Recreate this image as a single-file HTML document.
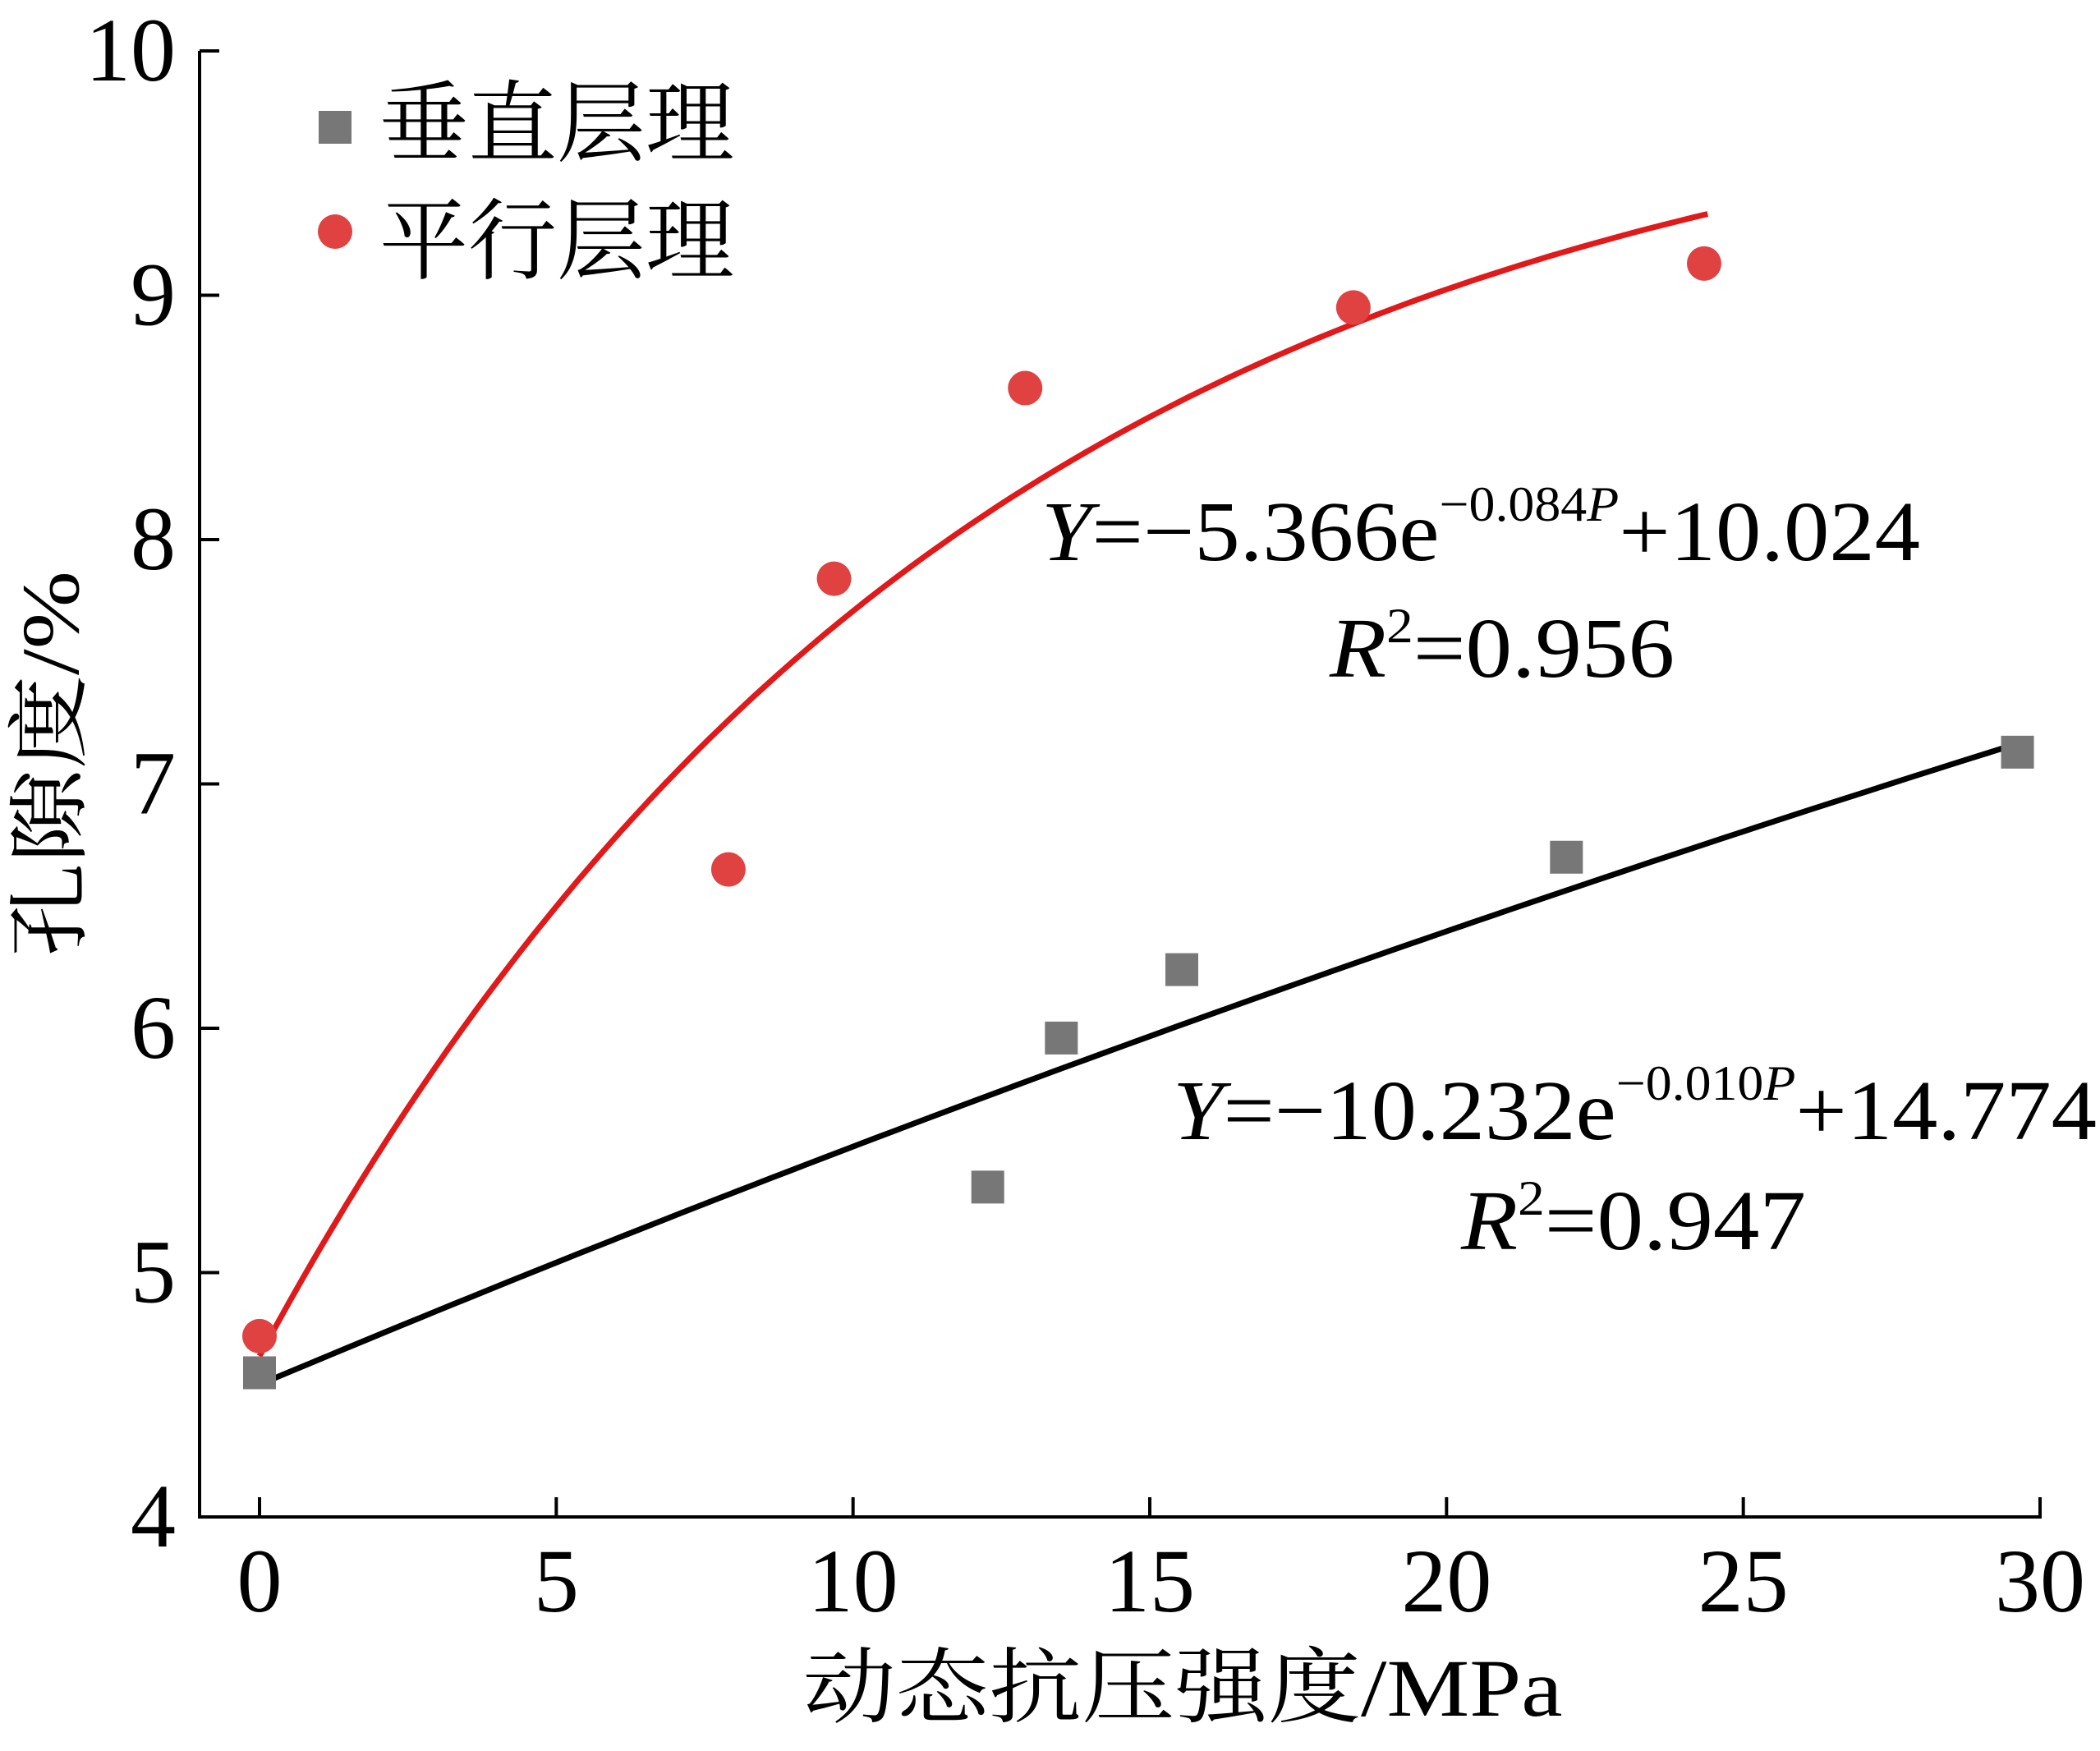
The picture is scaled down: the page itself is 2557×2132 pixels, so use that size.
<!DOCTYPE html>
<html><head><meta charset="utf-8"><style>html,body{margin:0;padding:0;background:#fff}svg{display:block}</style></head>
<body>
<svg id="chart" width="2557" height="2132" viewBox="0 0 2557 2132" xmlns="http://www.w3.org/2000/svg">
<g id="axes"></g>
<g id="fits"></g>
<g id="marks"></g>
<g font-family="'Liberation Serif','Noto Serif CJK SC',serif" font-size="108">
  <rect x="388" y="135" width="40" height="40" fill="#777"/>
  <text x="462" y="188">垂直层理</text>
  <circle cx="408" cy="282" r="21" fill="#e04242"/>
  <text x="462" y="331">平行层理</text>
</g>
<g font-family="'Liberation Serif','Times New Roman',serif" font-size="104" fill="#000">
  <text x="1268" y="682" textLength="1070" lengthAdjust="spacingAndGlyphs"><tspan font-style="italic">Y</tspan>=−5.366e<tspan font-size="60" dy="-48">−0.084<tspan font-style="italic">P</tspan></tspan><tspan dy="48">+10.024</tspan></text>
  <text x="1619" y="824" textLength="420" lengthAdjust="spacingAndGlyphs"><tspan font-style="italic">R</tspan><tspan font-size="60" dy="-42">2</tspan><tspan dy="42">=0.956</tspan></text>
  <text x="1428" y="1387" textLength="1125" lengthAdjust="spacingAndGlyphs"><tspan font-style="italic">Y</tspan>=−10.232e<tspan font-size="60" dy="-48">−0.010<tspan font-style="italic">P</tspan></tspan><tspan dy="48">+14.774</tspan></text>
  <text x="1779" y="1521" textLength="420" lengthAdjust="spacingAndGlyphs"><tspan font-style="italic">R</tspan><tspan font-size="60" dy="-42">2</tspan><tspan dy="42">=0.947</tspan></text>
</g>
<text x="1440" y="2089" text-anchor="middle" font-family="'Liberation Serif','Noto Serif CJK SC',serif" font-size="100" textLength="925" lengthAdjust="spacingAndGlyphs">动态抗压强度/MPa</text>
<text transform="translate(95,930) rotate(-90)" text-anchor="middle" font-family="'Liberation Serif','Noto Serif CJK SC',serif" font-size="100" textLength="470" lengthAdjust="spacingAndGlyphs">孔隙度/%</text>
</svg>
<script>
const xTicks = [0,5,10,15,20,25,30];
const yTicks = [4,5,6,7,8,9,10];
const vertX = [0,12.27,13.51,15.54,22.02,29.62];
const vertY = [4.59,5.35,5.96,6.24,6.70,7.13];
const paraX = [0,7.9,9.68,12.9,18.43,24.34];
const paraY = [4.74,6.65,7.84,8.62,8.95,9.13];
const paraFit = [-5.366,-0.084,10.024];
const vertFit = [-10.232,-0.010,14.774];
const paraRange = [0,24.4];
const vertRange = [0,29.7];

const NS='http://www.w3.org/2000/svg';
const X0=316,X1=2484,Y0=1847,Y1=62,XL=243,XR=2486;
const sx=v=>X0+(v-0)/(30-0)*(X1-X0);
const sy=v=>Y0-(v-4)/(10-4)*(Y0-Y1);
function mk(tag,attrs,parent){const e=document.createElementNS(NS,tag);for(const k in attrs)e.setAttribute(k,attrs[k]);parent.appendChild(e);return e;}
const axes=document.getElementById('axes');
let e=mk('path',{d:`M${XL} ${Y1}V${Y0}H${XR}`,fill:'none',stroke:'#000','stroke-width':4},axes);


xTicks.forEach(t=>{
  let l=mk('line',{x1:sx(t),x2:sx(t),y1:Y0,y2:Y0-24,stroke:'#000','stroke-width':4},axes);
  
  
  let tx=mk('text',{x:sx(t),y:1962,'text-anchor':'middle','font-family':"'Liberation Serif','Times New Roman',serif",'font-size':110},axes);
  tx.textContent=t;
  
  
});
yTicks.forEach(t=>{
  let l=mk('line',{x1:XL,x2:XL+24,y1:sy(t),y2:sy(t),stroke:'#000','stroke-width':4},axes);
  
  
  let tx=mk('text',{x:214,y:sy(t)+36,'text-anchor':'end','font-family':"'Liberation Serif','Times New Roman',serif",'font-size':110},axes);
  tx.textContent=t;
  
  
});
const fits=document.getElementById('fits');
function curve(p,r,color,name){
  let d='';for(let i=0;i<=100;i++){const x=r[0]+(r[1]-r[0])*i/100;const y=p[0]*Math.exp(p[1]*x)+p[2];d+=(i?'L':'M')+sx(x).toFixed(1)+' '+sy(y).toFixed(1);}
  let c=mk('path',{d,fill:'none',stroke:color,'stroke-width':7},fits);
  
  
}
curve(vertFit,vertRange,'#000','fit-vertical');
curve(paraFit,paraRange,'#e01a1a','fit-parallel');
const marks=document.getElementById('marks');
vertX.forEach((x,i)=>{
  let r=mk('rect',{x:sx(x)-20,y:sy(vertY[i])-20,width:40,height:40,fill:'#777'},marks);
  
  
});
paraX.forEach((x,i)=>{
  let c=mk('circle',{cx:sx(x),cy:sy(paraY[i]),r:21,fill:'#e04242'},marks);
  
  
});
</script>
</body></html>
